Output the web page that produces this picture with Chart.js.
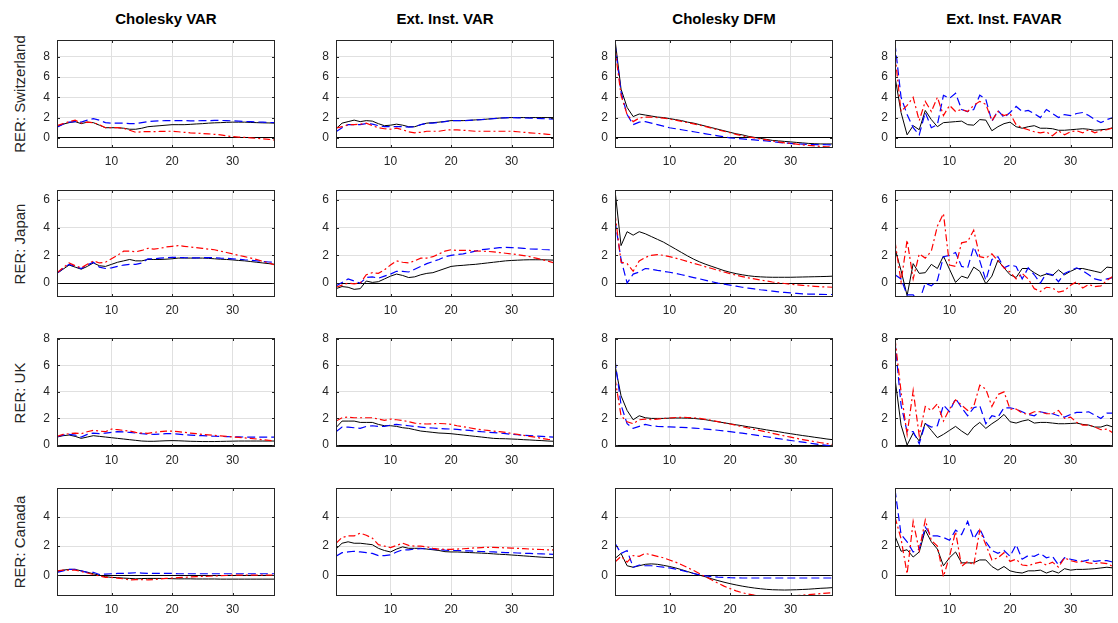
<!DOCTYPE html>
<html lang="en">
<head>
<meta charset="UTF-8">
<title>RER responses</title>
<script src="https://cdn.jsdelivr.net/npm/chart.js"></script>
<style>
    body { margin: 0; background: #fff; font-family: "Liberation Sans", Arial, sans-serif; }
    #fig { position: relative; width: 1118px; height: 623px; overflow: hidden; background: #fff; }
    .panel { position: absolute; }
    .ttl { position: absolute; text-align: center; font-weight: bold; font-size: 15px; color: #000; }
    .rlab { position: absolute; font-size: 15px; color: #262626; white-space: nowrap;
            transform: translate(-50%, -50%) rotate(-90deg); }
</style>
</head>
<body>
<div id="fig"></div>
<script>
// columns / rows
var methods = ['Cholesky VAR', 'Ext. Inst. VAR', 'Cholesky DFM', 'Ext. Inst. FAVAR'];
var countries = ['RER: Switzerland', 'RER: Japan', 'RER: UK', 'RER: Canada'];
var xTicks = [10, 20, 30];
var rowTicks = [[0, 2, 4, 6, 8], [0, 2, 4, 6], [0, 2, 4, 6, 8], [0, 2, 4]];
var rowMin = [-1, -1, -0.15, -1.43];
var rowMax = [9.65, 6.7, 8.05, 6.0];

// horizon 1..37; K = black, B = blue dashed, R = red dash-dot
// --- Switzerland
var cvarSwiK = [1.1,1.35,1.5,1.6,1.4,1.55,1.5,1.25,1.0,1.0,1.0,0.95,0.85,0.85,0.95,1.1,1.15,1.2,1.25,1.3,1.3,1.3,1.33,1.37,1.4,1.45,1.48,1.5,1.53,1.55,1.55,1.55,1.52,1.5,1.48,1.47,1.45];
var cvarSwiB = [1.05,1.35,1.55,1.6,1.55,1.75,1.9,1.75,1.5,1.45,1.45,1.45,1.4,1.4,1.5,1.6,1.65,1.68,1.7,1.7,1.7,1.7,1.68,1.68,1.7,1.7,1.72,1.72,1.7,1.68,1.65,1.62,1.6,1.57,1.55,1.52,1.5];
var cvarSwiR = [1.2,1.4,1.6,1.75,1.45,1.55,1.5,1.3,1.0,1.0,1.0,0.95,0.75,0.55,0.6,0.62,0.62,0.63,0.65,0.65,0.6,0.55,0.5,0.47,0.43,0.4,0.35,0.3,0.2,0.12,0.08,0.05,0.0,-0.05,-0.1,-0.15,-0.22];
var evarSwiK = [0.9,1.45,1.6,1.75,1.6,1.7,1.65,1.4,1.2,1.25,1.35,1.25,1.1,1.1,1.3,1.45,1.5,1.55,1.62,1.7,1.7,1.7,1.73,1.77,1.8,1.85,1.9,1.95,1.98,2.0,2.0,2.0,2.0,2.0,2.0,2.0,2.0];
var evarSwiB = [0.6,1.0,1.3,1.3,1.3,1.4,1.35,1.2,1.1,1.1,1.1,1.1,1.05,1.1,1.3,1.45,1.45,1.52,1.6,1.7,1.7,1.7,1.73,1.77,1.8,1.85,1.9,1.95,1.98,2.0,1.98,1.96,1.95,1.92,1.9,1.87,1.85];
var evarSwiR = [0.95,1.1,1.3,1.3,1.35,1.45,1.2,1.0,0.9,0.85,0.95,0.8,0.6,0.5,0.55,0.65,0.65,0.65,0.75,0.8,0.78,0.75,0.7,0.65,0.65,0.65,0.65,0.65,0.65,0.65,0.6,0.55,0.5,0.45,0.4,0.35,0.3];
var cdfmSwiK = [9.7,4.8,3.0,2.1,2.35,2.25,2.15,2.05,2.0,1.9,1.8,1.7,1.55,1.45,1.3,1.15,1.0,0.85,0.7,0.55,0.4,0.3,0.15,0.05,-0.05,-0.15,-0.25,-0.3,-0.35,-0.4,-0.45,-0.5,-0.55,-0.58,-0.6,-0.6,-0.6];
var cdfmSwiB = [9.3,4.5,2.3,1.3,1.55,1.6,1.45,1.3,1.15,1.0,0.9,0.8,0.7,0.6,0.5,0.4,0.3,0.2,0.1,0.0,-0.05,-0.1,-0.15,-0.2,-0.25,-0.3,-0.38,-0.45,-0.5,-0.55,-0.6,-0.62,-0.65,-0.66,-0.67,-0.68,-0.7];
var cdfmSwiR = [8.8,4.2,2.3,1.6,1.95,2.05,2.05,2.0,1.95,1.85,1.75,1.62,1.5,1.38,1.25,1.1,0.95,0.8,0.65,0.5,0.35,0.2,0.1,0.0,-0.1,-0.2,-0.3,-0.4,-0.5,-0.55,-0.62,-0.7,-0.75,-0.8,-0.85,-0.88,-0.9];
var efavSwiK = [6.0,2.5,0.3,1.2,0.8,2.7,1.8,1.1,1.5,1.55,1.6,1.65,1.3,1.25,1.8,1.75,0.7,1.1,1.4,1.55,1.1,0.95,1.1,1.2,0.95,0.95,0.9,0.75,0.75,0.8,0.85,0.9,0.85,0.75,0.8,0.85,1.0];
var efavSwiB = [9.3,4.0,2.3,1.0,0.3,2.5,1.0,1.3,4.2,3.9,4.4,2.8,2.6,2.8,4.2,3.8,1.6,2.7,2.0,2.5,3.1,2.6,2.7,2.4,2.0,2.8,2.4,2.0,2.3,2.2,2.4,2.5,2.2,1.8,1.5,1.8,2.0];
var efavSwiR = [8.2,2.6,3.2,4.0,1.7,3.6,2.6,4.0,2.2,3.2,2.6,2.8,2.6,3.2,3.6,3.3,1.7,2.6,2.2,2.4,1.3,1.0,0.8,0.6,0.5,0.6,0.2,0.7,0.3,0.6,0.7,0.5,0.8,0.5,0.7,0.8,1.0];
// --- Japan
var cvarJpnK = [0.7,1.0,1.3,1.15,1.0,1.2,1.45,1.25,1.2,1.35,1.5,1.6,1.7,1.6,1.6,1.7,1.7,1.7,1.72,1.75,1.8,1.8,1.8,1.8,1.8,1.78,1.75,1.72,1.7,1.67,1.63,1.6,1.55,1.5,1.45,1.4,1.35];
var cvarJpnB = [0.7,1.05,1.35,1.2,1.05,1.3,1.5,1.15,1.05,1.1,1.2,1.3,1.35,1.35,1.45,1.75,1.75,1.8,1.82,1.85,1.85,1.83,1.82,1.82,1.83,1.83,1.83,1.8,1.78,1.75,1.72,1.68,1.65,1.6,1.55,1.52,1.5];
var cvarJpnR = [0.75,1.1,1.45,1.25,1.1,1.35,1.6,1.45,1.5,1.75,2.0,2.3,2.3,2.25,2.35,2.5,2.45,2.5,2.6,2.65,2.7,2.65,2.6,2.55,2.5,2.45,2.4,2.3,2.2,2.1,2.0,1.9,1.8,1.7,1.55,1.45,1.3];
var evarJpnK = [-0.4,-0.25,-0.3,-0.45,-0.4,0.15,0.05,0.1,0.3,0.5,0.65,0.55,0.4,0.45,0.6,0.7,0.75,0.9,1.05,1.2,1.25,1.28,1.32,1.35,1.4,1.45,1.5,1.55,1.6,1.63,1.65,1.67,1.68,1.68,1.68,1.67,1.65];
var evarJpnB = [-0.2,0.05,0.3,0.15,0.0,0.4,0.45,0.35,0.5,0.65,0.85,0.85,0.8,1.0,1.2,1.4,1.55,1.7,1.9,2.0,2.05,2.1,2.2,2.3,2.4,2.45,2.5,2.55,2.57,2.55,2.53,2.5,2.47,2.45,2.42,2.4,2.37];
var evarJpnR = [-0.3,-0.15,0.0,-0.05,0.0,0.6,0.75,0.7,0.95,1.3,1.6,1.5,1.45,1.6,1.8,1.8,1.9,2.1,2.3,2.4,2.35,2.35,2.35,2.32,2.3,2.28,2.25,2.2,2.15,2.1,2.05,1.98,1.9,1.8,1.7,1.58,1.45];
var cdfmJpnK = [6.7,2.7,3.7,3.45,3.7,3.55,3.35,3.15,2.95,2.7,2.45,2.2,1.95,1.72,1.52,1.35,1.2,1.05,0.9,0.78,0.68,0.6,0.53,0.48,0.45,0.43,0.42,0.42,0.42,0.42,0.43,0.44,0.45,0.46,0.47,0.48,0.5];
var cdfmJpnB = [4.5,1.7,0.0,0.65,0.8,1.05,1.0,0.92,0.85,0.78,0.7,0.6,0.5,0.4,0.3,0.2,0.1,0.0,-0.08,-0.15,-0.22,-0.3,-0.36,-0.42,-0.48,-0.53,-0.58,-0.63,-0.67,-0.71,-0.74,-0.77,-0.79,-0.8,-0.81,-0.82,-0.82];
var cdfmJpnR = [5.0,1.5,1.4,0.85,1.6,1.85,2.0,2.05,2.0,1.9,1.8,1.68,1.55,1.42,1.3,1.17,1.05,0.92,0.8,0.68,0.57,0.47,0.38,0.3,0.22,0.15,0.08,0.02,-0.03,-0.08,-0.12,-0.16,-0.2,-0.23,-0.26,-0.28,-0.3];
var efavJpnK = [2.5,0.9,-0.9,1.4,0.7,0.75,1.35,1.05,1.95,1.0,0.05,0.5,0.35,1.15,0.85,-0.05,0.5,1.65,1.1,0.6,0.4,1.05,1.05,0.75,0.5,0.65,0.55,0.95,0.6,0.85,1.05,1.05,0.95,0.85,0.75,1.15,1.1];
var efavJpnB = [0.6,0.3,-0.85,-0.85,-1.3,0.0,-0.2,0.2,1.9,2.0,2.2,1.2,1.1,2.6,1.6,0.2,1.7,1.9,1.1,1.3,1.2,0.3,1.1,0.6,0.0,0.7,0.6,0.1,0.7,0.9,1.1,0.9,0.6,0.3,0.2,0.3,0.4];
var efavJpnR = [3.0,0.1,3.1,0.3,2.1,1.8,2.3,4.1,5.0,1.3,1.2,2.9,3.0,3.8,1.9,1.8,2.1,1.6,1.1,0.8,0.3,0.7,0.3,-0.4,-0.6,-0.3,-0.35,-0.65,-0.55,-0.15,0.1,-0.35,-0.1,-0.25,-0.2,0.2,0.5];
// --- UK
var cvarUkK = [0.6,0.7,0.75,0.65,0.5,0.6,0.7,0.65,0.6,0.55,0.5,0.45,0.4,0.35,0.3,0.28,0.28,0.3,0.32,0.33,0.32,0.3,0.28,0.27,0.26,0.26,0.26,0.27,0.28,0.29,0.3,0.3,0.3,0.3,0.3,0.3,0.3];
var cvarUkB = [0.6,0.75,0.8,0.75,0.6,0.8,0.9,0.85,0.9,0.95,1.0,0.98,0.95,0.9,0.85,0.82,0.8,0.82,0.85,0.85,0.82,0.78,0.75,0.72,0.7,0.68,0.66,0.65,0.63,0.62,0.61,0.6,0.6,0.6,0.6,0.6,0.6];
var cvarUkR = [0.65,0.8,0.85,0.9,0.85,1.0,1.1,1.05,1.0,1.2,1.15,1.1,1.05,0.95,0.9,0.88,0.95,1.0,1.05,1.05,1.0,0.95,0.9,0.85,0.8,0.76,0.72,0.68,0.65,0.6,0.57,0.53,0.5,0.45,0.4,0.35,0.3];
var evarUkK = [1.3,1.8,1.8,1.8,1.7,1.7,1.7,1.55,1.45,1.45,1.4,1.3,1.25,1.15,1.05,1.0,0.95,0.9,0.88,0.85,0.8,0.75,0.7,0.65,0.6,0.55,0.5,0.48,0.47,0.45,0.43,0.4,0.38,0.35,0.33,0.3,0.28];
var evarUkB = [1.0,1.35,1.35,1.3,1.25,1.4,1.45,1.4,1.4,1.5,1.55,1.5,1.45,1.4,1.35,1.3,1.28,1.25,1.22,1.2,1.17,1.13,1.1,1.05,1.0,0.97,0.93,0.9,0.85,0.8,0.77,0.73,0.7,0.68,0.65,0.62,0.6];
var evarUkR = [1.8,2.05,2.1,2.05,2.05,2.05,2.05,1.95,1.85,1.95,1.9,1.85,1.75,1.65,1.6,1.58,1.6,1.62,1.6,1.55,1.45,1.38,1.3,1.22,1.15,1.1,1.05,1.0,0.95,0.87,0.8,0.73,0.65,0.58,0.5,0.43,0.38];
var cdfmUkK = [6.0,3.7,2.6,1.9,2.2,2.05,2.0,2.0,2.0,2.02,2.03,2.03,2.02,2.0,1.95,1.9,1.82,1.75,1.67,1.6,1.52,1.45,1.37,1.3,1.22,1.14,1.07,1.0,0.92,0.85,0.78,0.71,0.65,0.58,0.52,0.45,0.4];
var cdfmUkB = [6.4,3.0,1.6,1.25,1.4,1.55,1.45,1.4,1.38,1.36,1.34,1.32,1.3,1.27,1.24,1.2,1.16,1.11,1.06,1.0,0.95,0.89,0.82,0.76,0.69,0.62,0.55,0.48,0.41,0.34,0.28,0.21,0.15,0.09,0.03,-0.03,-0.08];
var cdfmUkR = [5.0,2.2,1.75,1.6,1.9,1.95,1.9,1.95,2.0,2.03,2.07,2.08,2.07,2.05,2.0,1.93,1.85,1.76,1.67,1.58,1.48,1.38,1.28,1.18,1.08,0.98,0.88,0.78,0.68,0.59,0.5,0.41,0.33,0.25,0.17,0.1,0.03];
var efavUkK = [5.0,1.5,0.0,0.9,0.3,1.65,1.1,0.55,0.8,1.1,1.4,1.05,0.75,1.35,1.7,1.25,1.6,1.9,2.3,1.75,1.65,1.8,1.9,1.65,1.7,1.7,1.65,1.6,1.6,1.62,1.65,1.55,1.5,1.35,1.35,1.5,1.35];
var efavUkB = [7.8,3.0,1.0,1.0,0.1,1.6,1.35,1.45,3.0,2.5,3.5,2.8,2.2,2.8,2.95,1.6,2.2,2.1,2.8,2.8,2.7,2.5,2.3,2.2,2.5,2.4,2.35,2.2,2.1,2.3,2.45,2.45,2.5,2.25,2.0,2.4,2.4];
var efavUkR = [8.0,4.0,0.8,4.1,0.7,2.9,2.6,3.1,1.8,2.7,3.4,3.0,2.6,2.9,4.5,4.2,2.9,3.8,4.0,2.7,2.7,2.4,2.3,2.5,2.5,2.35,2.35,2.6,2.0,2.1,1.7,1.5,1.5,1.35,1.15,1.2,0.9];
// --- Canada
var cvarCanK = [0.25,0.35,0.4,0.4,0.3,0.2,0.1,0.0,-0.1,-0.15,-0.17,-0.2,-0.22,-0.25,-0.23,-0.22,-0.22,-0.22,-0.23,-0.24,-0.25,-0.25,-0.25,-0.26,-0.26,-0.26,-0.26,-0.27,-0.27,-0.27,-0.27,-0.27,-0.27,-0.27,-0.27,-0.27,-0.27];
var cvarCanB = [0.2,0.3,0.4,0.4,0.3,0.2,0.2,0.05,0.08,0.1,0.12,0.13,0.15,0.17,0.15,0.13,0.12,0.12,0.12,0.12,0.1,0.1,0.1,0.1,0.1,0.1,0.1,0.1,0.1,0.1,0.1,0.1,0.1,0.1,0.1,0.1,0.1];
var cvarCanR = [0.3,0.35,0.35,0.35,0.25,0.15,0.05,-0.05,-0.15,-0.15,-0.2,-0.25,-0.32,-0.3,-0.3,-0.32,-0.3,-0.25,-0.22,-0.2,-0.17,-0.15,-0.12,-0.1,-0.08,-0.07,-0.05,-0.03,-0.02,0.0,0.0,0.0,0.0,0.0,0.0,0.0,0.0];
var evarCanK = [1.8,2.2,2.3,2.2,2.2,2.15,2.1,1.85,1.7,1.6,1.8,1.95,1.85,1.85,1.85,1.8,1.75,1.7,1.62,1.6,1.6,1.58,1.56,1.54,1.52,1.5,1.47,1.44,1.42,1.39,1.36,1.33,1.3,1.27,1.24,1.22,1.2];
var evarCanB = [1.3,1.55,1.6,1.65,1.6,1.55,1.5,1.35,1.35,1.4,1.6,1.75,1.75,1.8,1.82,1.82,1.8,1.75,1.72,1.7,1.7,1.68,1.67,1.65,1.63,1.62,1.6,1.58,1.56,1.55,1.53,1.51,1.5,1.48,1.47,1.45,1.44];
var evarCanR = [2.2,2.6,2.7,2.7,2.9,2.75,2.55,2.1,2.0,1.9,2.05,2.2,2.05,2.0,2.0,1.95,1.85,1.8,1.78,1.78,1.8,1.82,1.85,1.88,1.9,1.92,1.92,1.9,1.88,1.87,1.85,1.83,1.8,1.78,1.77,1.75,1.73];
var cdfmCanK = [1.15,1.5,0.65,0.55,0.65,0.75,0.78,0.75,0.68,0.6,0.5,0.38,0.25,0.12,0.0,-0.12,-0.25,-0.37,-0.48,-0.58,-0.67,-0.75,-0.82,-0.88,-0.93,-0.97,-1.0,-1.01,-1.02,-1.01,-1.0,-0.98,-0.96,-0.93,-0.9,-0.88,-0.85];
var cdfmCanB = [2.2,1.5,1.7,0.55,0.7,0.65,0.65,0.6,0.55,0.5,0.42,0.33,0.22,0.12,0.02,-0.05,-0.1,-0.13,-0.15,-0.17,-0.18,-0.19,-0.19,-0.19,-0.19,-0.19,-0.19,-0.19,-0.19,-0.19,-0.19,-0.19,-0.19,-0.19,-0.19,-0.19,-0.19];
var cdfmCanR = [0.9,1.3,0.9,1.35,1.3,1.5,1.4,1.3,1.2,1.05,0.9,0.72,0.52,0.32,0.1,-0.12,-0.33,-0.55,-0.75,-0.92,-1.08,-1.2,-1.3,-1.37,-1.42,-1.44,-1.45,-1.45,-1.44,-1.42,-1.4,-1.37,-1.34,-1.3,-1.27,-1.23,-1.2];
var efavCanK = [2.7,1.65,1.75,1.25,1.6,3.1,2.3,1.8,0.65,1.2,1.6,0.85,0.85,0.85,1.05,1.05,0.6,0.35,0.6,0.3,0.2,0.15,0.3,0.3,0.35,0.15,0.3,0.15,0.45,0.35,0.4,0.4,0.42,0.45,0.5,0.55,0.5];
var efavCanB = [5.9,2.8,2.3,1.6,1.8,3.3,2.7,2.7,2.6,2.4,3.1,2.8,3.7,2.5,3.2,2.3,1.7,1.5,1.7,1.3,2.1,1.1,1.35,1.3,1.5,1.2,1.3,0.7,1.2,1.1,1.0,0.95,1.05,0.95,1.0,1.0,0.9];
var efavCanR = [4.0,2.5,0.1,3.7,1.7,3.8,2.4,2.0,-0.1,1.3,3.0,0.6,0.95,0.7,3.1,2.1,1.05,1.2,1.55,0.95,1.1,0.7,0.65,0.8,0.9,0.7,0.9,0.55,1.2,1.0,0.9,0.95,0.85,0.8,0.85,0.8,0.6];

var grid = [
    [[cvarSwiK, cvarSwiB, cvarSwiR], [evarSwiK, evarSwiB, evarSwiR], [cdfmSwiK, cdfmSwiB, cdfmSwiR], [efavSwiK, efavSwiB, efavSwiR]],
    [[cvarJpnK, cvarJpnB, cvarJpnR], [evarJpnK, evarJpnB, evarJpnR], [cdfmJpnK, cdfmJpnB, cdfmJpnR], [efavJpnK, efavJpnB, efavJpnR]],
    [[cvarUkK, cvarUkB, cvarUkR], [evarUkK, evarUkB, evarUkR], [cdfmUkK, cdfmUkB, cdfmUkR], [efavUkK, efavUkB, efavUkR]],
    [[cvarCanK, cvarCanB, cvarCanR], [evarCanK, evarCanB, evarCanR], [cdfmCanK, cdfmCanB, cdfmCanR], [efavCanK, efavCanB, efavCanR]]
];

// plot-box geometry on the page
var colLeft = [57, 336, 615, 895];
var rowTop = [40, 190, 338, 488];
var rowH = [108, 107, 109, 108];
var boxW = 218;
var padL = 44, padT = 8, padR = 6, padB = 24;

var axisCol = '#262626';
var tickFont = { family: 'Liberation Sans, Arial, sans-serif', size: 12 };

// box outline with inward tick marks
var boxPlugin = {
    id: 'box',
    afterDatasetsDraw: function (chart) {
        var a = chart.chartArea, c = chart.ctx;
        var xs = chart.scales.x, ys = chart.scales.y;
        c.save();
        c.strokeStyle = axisCol;
        c.lineWidth = 1;
        c.beginPath();
        xs.ticks.forEach(function (t) {
            var px = Math.round(xs.getPixelForValue(t.value)) + 0.5;
            c.moveTo(px, a.bottom); c.lineTo(px, a.bottom - 3);
            c.moveTo(px, a.top); c.lineTo(px, a.top + 3);
        });
        ys.ticks.forEach(function (t) {
            var py = Math.round(ys.getPixelForValue(t.value)) + 0.5;
            c.moveTo(a.left, py); c.lineTo(a.left + 3, py);
            c.moveTo(a.right, py); c.lineTo(a.right - 3, py);
        });
        c.stroke();
        c.strokeRect(Math.round(a.left) + 0.5, Math.round(a.top) + 0.5,
            Math.round(a.right - a.left) - 1, Math.round(a.bottom - a.top) - 1);
        c.restore();
    }
};

function series(vals) {
    return vals.map(function (v, i) { return { x: i + 1, y: v }; });
}

function makePanel(r, c) {
    var fig = document.getElementById('fig');
    var div = document.createElement('div');
    div.className = 'panel';
    div.style.left = (colLeft[c] - padL) + 'px';
    div.style.top = (rowTop[r] - padT) + 'px';
    div.style.width = (boxW + padL + padR) + 'px';
    div.style.height = (rowH[r] + padT + padB) + 'px';
    var cv = document.createElement('canvas');
    div.appendChild(cv);
    fig.appendChild(div);

    var d = grid[r][c];
    var ticksY = rowTicks[r];
    new Chart(cv.getContext('2d'), {
        type: 'line',
        data: {
            datasets: [
                { data: series(d[2]), borderColor: '#ff0000', borderWidth: 1.2, borderDash: [7, 3, 2, 3] },
                { data: series(d[1]), borderColor: '#0000ff', borderWidth: 1.2, borderDash: [8, 4] },
                { data: series(d[0]), borderColor: '#000000', borderWidth: 1 }
            ]
        },
        options: {
            responsive: true,
            maintainAspectRatio: false,
            animation: false,
            events: [],
            layout: { padding: { left: 0, top: padT, right: padR, bottom: 0 } },
            elements: { point: { radius: 0 }, line: { tension: 0, fill: false } },
            plugins: { legend: { display: false }, tooltip: { enabled: false } },
            scales: {
                x: {
                    type: 'linear', min: 1, max: 37,
                    afterBuildTicks: function (s) { s.ticks = xTicks.map(function (v) { return { value: v }; }); },
                    afterFit: function (s) { s.height = padB; s.paddingLeft = 0; s.paddingRight = 0; },
                    grid: { color: '#e0e0e0', drawTicks: false },
                    border: { display: false },
                    ticks: { font: tickFont, color: axisCol, padding: 6, maxRotation: 0, autoSkip: false }
                },
                y: {
                    type: 'linear', min: rowMin[r], max: rowMax[r],
                    afterBuildTicks: function (s) { s.ticks = ticksY.map(function (v) { return { value: v }; }); },
                    afterFit: function (s) { s.width = padL; s.paddingTop = 0; s.paddingBottom = 0; },
                    grid: {
                        drawTicks: false,
                        color: function (ctx) { return ctx.tick && ctx.tick.value === 0 ? '#000000' : '#e0e0e0'; }
                    },
                    border: { display: false },
                    ticks: { font: tickFont, color: axisCol, padding: 7, autoSkip: false }
                }
            }
        },
        plugins: [boxPlugin]
    });
}

for (var c = 0; c < 4; c++) {
    var t = document.createElement('div');
    t.className = 'ttl';
    t.style.left = colLeft[c] + 'px';
    t.style.width = boxW + 'px';
    t.style.top = '10px';
    t.textContent = methods[c];
    document.getElementById('fig').appendChild(t);
}
for (var r = 0; r < 4; r++) {
    var lab = document.createElement('div');
    lab.className = 'rlab';
    lab.style.left = '19px';
    lab.style.top = (rowTop[r] + rowH[r] / 2) + 'px';
    lab.textContent = countries[r];
    document.getElementById('fig').appendChild(lab);
    for (var c2 = 0; c2 < 4; c2++) makePanel(r, c2);
}
</script>
</body>
</html>
